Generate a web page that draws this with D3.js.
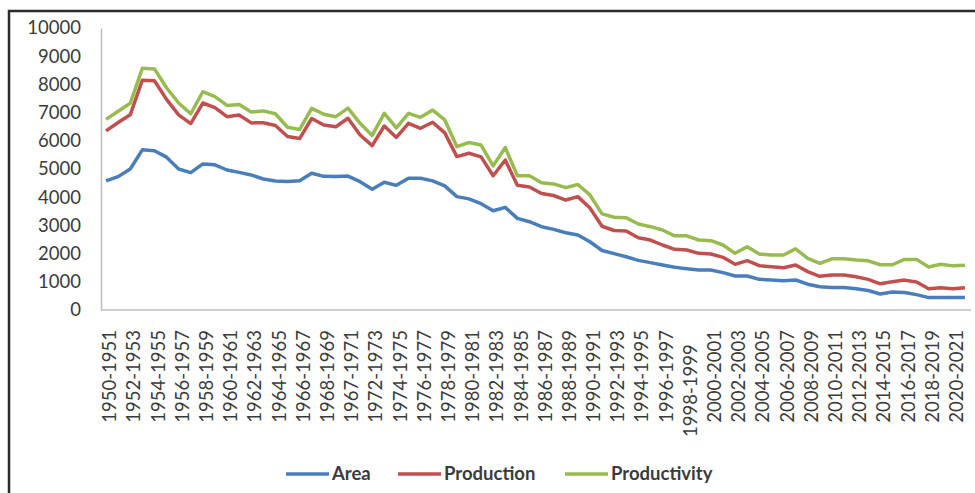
<!DOCTYPE html>
<html>
<head>
<meta charset="utf-8">
<script src="https://cdn.jsdelivr.net/npm/d3@7/dist/d3.min.js"></script>
<style>
  html, body { margin: 0; padding: 0; background: #fff; }
  svg { display: block; }
  text { font-family: Lato, "Open Sans", sans-serif; fill: #3b3b3b; }
</style>
</head>
<body>
<svg id="chart" width="975" height="493"></svg>
<script>
// Agricultural seasons, 1950-1951 to 2021-2022
const categories = [
  "1950-1951","1951-1952","1952-1953","1953-1954","1954-1955","1955-1956",
  "1956-1957","1957-1958","1958-1959","1959-1960","1960-1961","1961-1962",
  "1962-1963","1963-1964","1964-1965","1965-1966","1966-1967","1967-1968",
  "1968-1969","1969-1970","1967-1971","1971-1972","1972-1973","1973-1974",
  "1974-1975","1975-1976","1976-1977","1977-1978","1978-1979","1979-1980",
  "1980-1981","1981-1982","1982-1983","1983-1984","1984-1985","1985-1986",
  "1986-1987","1987-1988","1988-1989","1989-1990","1990-1991","1991-1992",
  "1992-1993","1993-1994","1994-1995","1995-1996","1996-1997","1997-1998",
  "1998-1999","1999-2000","2000-2001","2001-2002","2002-2003","2003-2004",
  "2004-2005","2005-2006","2006-2007","2007-2008","2008-2009","2009-2010",
  "2010-2011","2011-2012","2012-2013","2013-2014","2014-2015","2015-2016",
  "2016-2017","2017-2018","2018-2019","2019-2020","2020-2021","2021-2022"
];

// Labels printed under every second season
const tickLabels = [
  "1950-1951","1952-1953","1954-1955","1956-1957","1958-1959","1960-1961",
  "1962-1963","1964-1965","1966-1967","1968-1969","1967-1971","1972-1973",
  "1974-1975","1976-1977","1978-1979","1980-1981","1982-1983","1984-1985",
  "1986-1987","1988-1989","1990-1991","1992-1993","1994-1995","1996-1997",
  "1998-1999\u00a0\u00a0\u00a0","2000-2001","2002-2003","2004-2005","2006-2007","2008-2009",
  "2010-2011","2012-2013","2014-2015","2016-2017","2018-2019","2020-2021"
];

const yTicks = [0,1000,2000,3000,4000,5000,6000,7000,8000,9000,10000];

const area = [
  4580,4730,5000,5680,5650,5420,5000,4870,5180,5150,4965,4880,
  4790,4645,4575,4560,4580,4850,4740,4730,4750,4550,4280,4530,
  4420,4670,4670,4580,4400,4020,3940,3770,3520,3640,3250,3130,
  2955,2860,2740,2660,2420,2110,2000,1890,1760,1680,1596,1513,
  1466,1418,1418,1324,1206,1206,1087,1064,1040,1064,915,825,
  800,795,755,690,568,635,618,545,440,440,440,440
];

const production = [
  6350,6650,6920,8150,8130,7470,6920,6610,7340,7180,6855,6915,
  6635,6640,6540,6150,6080,6790,6560,6500,6800,6205,5830,6525,
  6120,6620,6443,6660,6280,5440,5560,5430,4760,5320,4420,4360,
  4130,4060,3900,4020,3620,2970,2820,2800,2560,2482,2305,2150,
  2128,2010,1986,1868,1620,1750,1572,1537,1500,1596,1360,1195,
  1240,1240,1180,1085,930,1000,1060,990,755,790,755,790
];

const productivity = [
  6760,7050,7330,8570,8550,7880,7340,6960,7740,7565,7255,7290,
  7020,7060,6960,6480,6400,7150,6940,6855,7160,6620,6190,6975,
  6460,6975,6832,7090,6740,5790,5940,5850,5110,5760,4765,4760,
  4515,4470,4340,4450,4080,3410,3290,3270,3050,2955,2837,2630,
  2630,2482,2458,2305,2010,2245,1986,1950,1950,2170,1832,1655,
  1815,1815,1775,1745,1605,1605,1795,1795,1525,1620,1565,1590
];

const series = [
  { name: "Area",         values: area,         color: "#4a7ebb" },
  { name: "Production",   values: production,   color: "#c0504d" },
  { name: "Productivity", values: productivity, color: "#98bb4f" }
];

const svg = d3.select("#chart");

// outer frame
svg.append("rect")
  .attr("x", 9).attr("y", 11)
  .attr("width", 1000).attr("height", 520)
  .attr("fill", "none")
  .attr("stroke", "#2a2a2a")
  .attr("stroke-width", 2.5);

const plot = { left: 100, right: 971, top: 28, bottom: 310 };

const x = d3.scalePoint()
  .domain(categories)
  .range([plot.left, plot.right])
  .padding(0.5);

const y = d3.scaleLinear()
  .domain([0, 10000])
  .range([plot.bottom, plot.top]);

// y axis
const yAxis = svg.append("g")
  .attr("transform", `translate(${plot.left + 1},0)`)
  .call(d3.axisLeft(y).tickValues(yTicks).tickSize(0).tickPadding(20).tickFormat(d3.format("d")));
yAxis.select(".domain").attr("stroke", "#bdbdbd").attr("stroke-width", 1.5);
yAxis.selectAll("text")
  .style("font-size", "18.5px")
  .attr("fill", "#3b3b3b");

// x axis
const xTickValues = categories.filter((d, i) => i % 2 === 0);
const xAxis = svg.append("g")
  .attr("transform", `translate(0,${plot.bottom})`)
  .call(d3.axisBottom(x).tickValues(xTickValues).tickSize(0).tickFormat((d, i) => tickLabels[i]));
xAxis.select(".domain")
  .attr("d", `M${plot.left + 1},0H${plot.right}`)
  .attr("stroke", "#bdbdbd").attr("stroke-width", 1.5);
xAxis.selectAll("text")
  .style("font-size", "18.5px")
  .style("white-space", "pre")
  .attr("fill", "#3b3b3b")
  .attr("text-anchor", "end")
  .attr("transform", "rotate(-90)")
  .attr("x", -20)
  .attr("y", 3)
  .attr("dy", "0.36em");

// series lines
const line = d3.line()
  .x((d, i) => x(categories[i]))
  .y(d => y(d));

svg.append("g")
  .selectAll("path")
  .data(series)
  .join("path")
  .attr("d", s => line(s.values))
  .attr("fill", "none")
  .attr("stroke", s => s.color)
  .attr("stroke-width", 3.5)
  .attr("stroke-linejoin", "round");

// legend
const legendPos = [286, 398, 565];
const legend = svg.append("g")
  .selectAll("g")
  .data(series)
  .join("g")
  .attr("transform", (s, i) => `translate(${legendPos[i]},474)`);
legend.append("line")
  .attr("x1", 0).attr("x2", 43)
  .attr("stroke", s => s.color)
  .attr("stroke-width", 3.5);
legend.append("text")
  .attr("x", 46)
  .attr("dy", "0.35em")
  .style("font-size", "18.5px")
  .style("font-weight", "bold")
  .attr("fill", "#333")
  .text(s => s.name);
</script>
</body>
</html>
